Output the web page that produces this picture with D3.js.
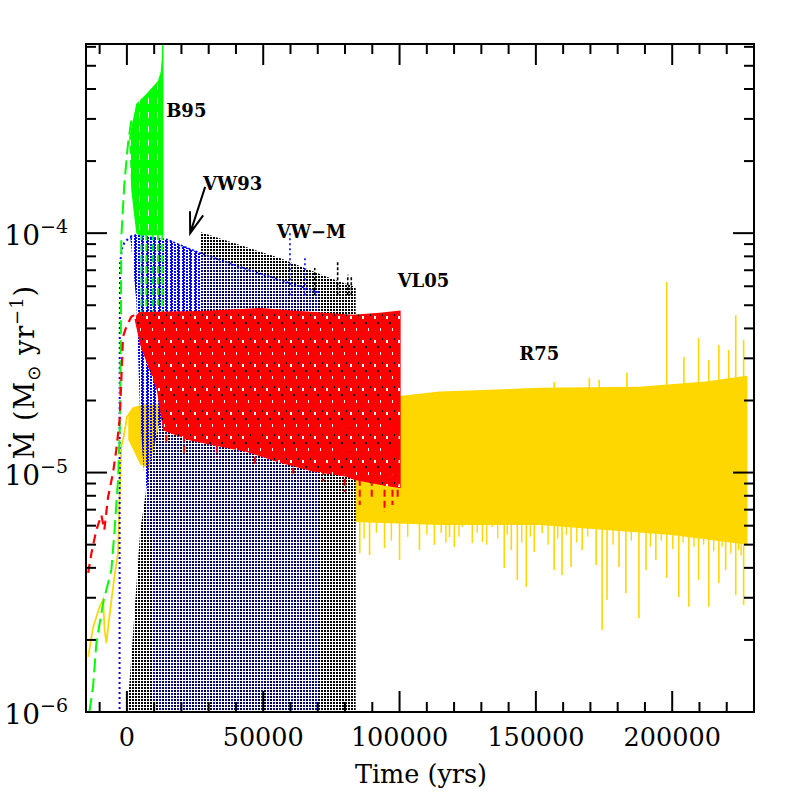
<!DOCTYPE html>
<html>
<head>
<meta charset="utf-8">
<script src="https://cdn.jsdelivr.net/npm/d3@7"></script>
<style>
body { margin: 0; background: #fff; }
svg { display: block; }
text { font-family: "DejaVu Serif", serif; fill: #000; }
</style>
</head>
<body>
<script>
// time in yrs, mass loss rate in Msun/yr

// B95 (green, long dashes)
var b95Track = [[-13750,1e-6],[-12400,1.28e-6],[-11200,1.94e-6],[-8740,2.85e-6],[-5700,3.92e-6],[-4600,5.6e-6],
  [-3250,9.3e-6],[-2670,1.41e-5],[-2230,3.58e-5],[-2050,9.6e-5],[-950,1.6e-4],[400,2.36e-4],[1600,2.95e-4]];
var b95Top = [[880,2.52e-4],[3440,3.47e-4],[7100,3.81e-4],[11380,4.32e-4],[12400,4.71e-4],[12770,5.3e-4],[13130,8e-4],[13400,8e-4]];
var b95Low = [[13400,9.8e-5],[4500,9.8e-5],[3440,1.0e-4],[1600,1.51e-4],[880,2.45e-4]];
var b95Dips = [[5300,4.6e-5],[7100,4.8e-5],[9500,4.6e-5],[11400,5.0e-5],[13000,4.7e-5]];

// VW93 (blue, dotted)
var vw93Track = [[-2700,5e-7],[-2650,3e-5],[-2500,7.5e-5],[-1800,8.6e-5],[-950,9.1e-5],[900,9.6e-5],[3400,9.8e-5]];
var vw93Top = [[1240,9.7e-5],[3440,9.8e-5],[14780,9.4e-5],[26850,8.26e-5],[45130,7.0e-5],[63420,6.0e-5],[70000,5.68e-5],[70700,5.6e-5]];
var vw93Edge = [[70700,5e-7],[10400,5e-7],[8560,4.31e-6],[4900,1.66e-5],[3440,5.26e-5],[1240,9.7e-5]];
var vw93Spikes = [[59800,1.01e-4],[65300,7.87e-5]];

// VW-M (black, dotted)
var vwmOutline = [[150,5e-7],[150,1e-6],[2340,2.2e-6],[4900,5.76e-6],[8560,1.10e-5],[12220,1.66e-5],[15140,1.79e-5],
  [19530,1.72e-5],[26100,1.69e-5],[26850,1.69e-5],[26850,1.01e-4],[56100,7.87e-5],[74400,6.49e-5],[82800,6.01e-5],
  [83900,5.9e-5],[83900,5e-7]];
var vwmSpikes = [[68900,7.16e-5],[77300,7.59e-5],[81000,6.7e-5],[82300,6.6e-5]];

// VL05 (red, dashed)
var vl05Track = [[-14200,3.81e-6],[-13000,4.61e-6],[-11200,5.76e-6],[-9360,6.65e-6],[-8270,5.76e-6],[-6900,7.91e-6],
  [-5100,9.96e-6],[-3900,1.24e-5],[-2670,1.66e-5],[-2050,2.44e-5],[-1430,3.69e-5],[-220,4.06e-5],[1600,4.47e-5],[4500,4.69e-5]];
var vl05Top = [[2700,4.43e-5],[4500,4.69e-5],[26850,4.73e-5],[48800,4.87e-5],[63400,4.73e-5],[82800,4.56e-5],[92700,4.65e-5],[100400,4.75e-5]];
var vl05Low = [[100400,8.6e-6],[92700,8.9e-6],[83500,9.3e-6],[80600,9.6e-6],[68200,1.01e-5],[56100,1.1e-5],[44000,1.22e-5],
  [31600,1.3e-5],[23200,1.36e-5],[13300,1.5e-5],[11000,2.2e-5],[4900,3.4e-5],[2700,4.43e-5]];
var vl05Spikes = [[14500,1.3e-5],[21000,1.18e-5],[33000,1.15e-5],[47000,1.08e-5],[61000,9.9e-6],[72000,9.2e-6],
  [79900,8.3e-6],[85400,7.32e-6],[89800,7.83e-6],[94500,6.84e-6],[97400,7.32e-6],[99300,7.69e-6]];

// R75 (gold, solid)
var r75Track = [[-14200,1.70e-6],[-12400,2.26e-6],[-9990,2.75e-6],[-8740,2.94e-6],[-8160,2.20e-6],[-7530,1.94e-6],[-6440,2.49e-6],
  [-4610,3.66e-6],[-3260,4.61e-6],[-2670,7.91e-6],[-2050,1.28e-5],[-1210,1.41e-5],[40,1.71e-5],[2340,1.86e-5],[7350,1.92e-5]];
var r75Top = [[500,1.75e-5],[2340,1.86e-5],[7460,1.92e-5],[26850,1.97e-5],[63400,2.03e-5],[100000,2.09e-5],[114600,2.18e-5],
  [151200,2.26e-5],[187800,2.28e-5],[212300,2.40e-5],[227300,2.54e-5],[227600,2.54e-5]];
var r75Low = [[227600,5.0e-6],[199900,5.49e-6],[175700,5.76e-6],[151200,6.04e-6],[114600,6.04e-6],[83500,6.22e-6],
  [30000,8e-6],[8560,1.03e-5],[4900,1.08e-5],[500,1.37e-5]];
var r75Down = [[85400,4.6e-6],[89000,4.53e-6],[94500,4.84e-6],[100000,4.31e-6],[107300,4.75e-6],[112800,4.99e-6],
  [115300,5.59e-6],[118300,5.38e-6],[120100,4.89e-6],[123100,5.93e-6],[126700,5.08e-6],[130400,5.13e-6],[134000,5.93e-6],
  [138400,4.0e-6],[141000,4.75e-6],[143200,3.56e-6],[146500,3.33e-6],[149400,4.66e-6],[152300,5.59e-6],[156700,3.92e-6],
  [159600,3.73e-6],[162900,4.03e-6],[167000,4.75e-6],[172100,4.11e-6],[174300,2.20e-6],[176100,2.94e-6],[180500,4.03e-6],
  [183000,3.14e-6],[187800,2.47e-6],[190400,3.92e-6],[194000,4.31e-6],[198000,3.63e-6],[202400,3.02e-6],[206100,2.75e-6],
  [209700,3.56e-6],[213400,2.75e-6],[217100,3.46e-6],[219600,3.92e-6],[223300,3.08e-6],[224400,4.75e-6],[226200,2.80e-6]];
var r75Fringe = [[87000,5.3e-6],[91500,5.6e-6],[97000,5.2e-6],[103000,5.4e-6],[110000,5.5e-6],[117000,5.1e-6],
  [121800,5.4e-6],[128500,5.6e-6],[132000,5.0e-6],[136000,5.3e-6],[139500,5.5e-6],[144800,5.1e-6],[148000,5.4e-6],
  [154500,5.0e-6],[158000,5.3e-6],[161200,5.5e-6],[165000,5.1e-6],[169000,5.4e-6],[178300,5.0e-6],[185000,5.2e-6],
  [192000,4.9e-6],[196000,5.2e-6],[200200,4.8e-6],[204000,5.1e-6],[208000,4.9e-6],[211500,5.0e-6],[215200,4.7e-6],
  [218300,4.9e-6],[221500,4.6e-6],[225300,4.5e-6]];
var r75Up = [[156700,2.39e-5],[169600,2.48e-5],[173200,2.44e-5],[183400,2.61e-5],[198000,6.25e-5],[204300,3.04e-5],
  [209700,3.65e-5],[213400,2.95e-5],[217100,3.41e-5],[220700,3.25e-5],[223300,4.54e-5],[226200,3.58e-5]];

var xMajor = [0, 50000, 100000, 150000, 200000];
var yMajor = [1e-6, 1e-5, 1e-4];
var yLabels = ["\u22126", "\u22125", "\u22124"];

var labels = [
  {text: "B95", t: 14400, v: 3.06e-4},
  {text: "VW93", t: 27900, v: 1.51e-4},
  {text: "VW\u2212M", t: 55000, v: 9.55e-5},
  {text: "VL05", t: 99300, v: 5.96e-5},
  {text: "R75", t: 143900, v: 2.95e-5}
];
var arrowFrom = [28700, 1.56e-4], arrowTo = [23200, 1.0e-4];

var W = 797, H = 797;
var plotL = 86, plotR = 754, plotT = 44, plotB = 712;

var svg = d3.select("body").append("svg").attr("width", W).attr("height", H);

var x = d3.scaleLinear().domain([-15000, 230000]).range([plotL, plotR]);
var y = d3.scaleLog().domain([1e-6, Math.pow(10, -3.21)]).range([plotB, plotT]);

var defs = svg.append("defs");
defs.append("clipPath").attr("id", "plot").append("rect")
  .attr("x", plotL).attr("y", plotT).attr("width", plotR - plotL).attr("height", plotB - plotT);

var pBk = defs.append("pattern").attr("id", "pBlack").attr("patternUnits", "userSpaceOnUse")
  .attr("width", 3).attr("height", 3);
pBk.append("rect").attr("width", 3).attr("height", 3).attr("fill", "#fff");
pBk.append("rect").attr("width", 2).attr("height", 2).attr("fill", "#000");

// dense blue where it is alone, sparse columns where it sits on the black
var pBl = defs.append("pattern").attr("id", "pBlue").attr("patternUnits", "userSpaceOnUse")
  .attr("width", 4).attr("height", 3);
pBl.append("rect").attr("x", 2).attr("y", 1).attr("width", 2).attr("height", 2).attr("fill", "#0000ff");

var pBs = defs.append("pattern").attr("id", "pBlueSparse").attr("patternUnits", "userSpaceOnUse")
  .attr("width", 6).attr("height", 3);
pBs.append("rect").attr("x", 3).attr("y", 0).attr("width", 2).attr("height", 2).attr("fill", "#0000ff");

var pRd = defs.append("pattern").attr("id", "pRed").attr("patternUnits", "userSpaceOnUse")
  .attr("width", 12).attr("height", 24);
pRd.append("rect").attr("width", 12).attr("height", 24).attr("fill", "#ff0000");
pRd.append("rect").attr("x", 2).attr("y", 4).attr("width", 2).attr("height", 3).attr("fill", "#fff");
pRd.append("rect").attr("x", 8).attr("y", 16).attr("width", 1).attr("height", 3).attr("fill", "#fff");
pRd.append("rect").attr("x", 5).attr("y", 10).attr("width", 2).attr("height", 2).attr("fill", "#000");
pRd.append("rect").attr("x", 10).attr("y", 2).attr("width", 1).attr("height", 2).attr("fill", "#000");
pRd.append("rect").attr("x", 1).attr("y", 19).attr("width", 1).attr("height", 1).attr("fill", "#0000ff");

var pGr = defs.append("pattern").attr("id", "pGreen").attr("patternUnits", "userSpaceOnUse")
  .attr("width", 9).attr("height", 14);
pGr.append("rect").attr("width", 9).attr("height", 14).attr("fill", "#00ff00");
pGr.append("rect").attr("x", 4).attr("y", 0).attr("width", 1).attr("height", 6).attr("fill", "#fff");

var line = d3.line().x(function(d) { return x(d[0]); }).y(function(d) { return y(d[1]); });

var g = svg.append("g").attr("clip-path", "url(#plot)");

function band(pts, fill) {
  g.append("path").attr("d", line(pts) + "Z").attr("fill", fill).attr("stroke", "none");
}
function track(pts, color, dash, w) {
  g.append("path").attr("d", line(pts)).attr("fill", "none").attr("stroke", color)
    .attr("stroke-width", w).attr("stroke-dasharray", dash);
}
function spikes(pts, from, color, dash, w) {
  g.selectAll(null).data(pts).enter().append("line")
    .attr("x1", function(d) { return x(d[0]); }).attr("x2", function(d) { return x(d[0]); })
    .attr("y1", y(from)).attr("y2", function(d) { return y(d[1]); })
    .attr("stroke", color).attr("stroke-width", w).attr("stroke-dasharray", dash);
}

// R75
band(r75Top.concat(r75Low), "#ffd700");
spikes(r75Down, 1.2e-5, "#ffd700", null, 1.6);
spikes(r75Fringe, 1.2e-5, "#ffd700", null, 1.4);
spikes(r75Up, 2.0e-5, "#ffd700", null, 1.6);
track(r75Track, "#ffd700", null, 1.8);

// VW93 underneath, then VW-M, then VW93 again on top
band(vw93Top.concat(vw93Edge), "url(#pBlue)");
band(vwmOutline, "url(#pBlack)");
spikes(vwmSpikes, 5.5e-5, "#000", "3,2", 1.6);
band(vw93Top.concat(vw93Edge), "url(#pBlueSparse)");
g.append("path").attr("d", line(vw93Top)).attr("fill", "none").attr("stroke", "#0000ff")
  .attr("stroke-width", 1.6).attr("stroke-dasharray", "2,2");
spikes(vw93Spikes, 5.5e-5, "#0000ff", "2,3", 1.6);
track(vw93Track, "#0000ff", "2,3", 2);

// B95
band(b95Top.concat(b95Low), "url(#pGreen)");
spikes(b95Dips, 1.0e-4, "#00ff00", "7,4", 1.8);
track(b95Track, "#00ff00", "14,6", 2);

// VL05
band(vl05Top.concat(vl05Low), "url(#pRed)");
spikes(vl05Spikes, 1.6e-5, "#ff0000", "7,4", 2);
track(vl05Track, "#ff0000", "9,6", 2.2);

// frame and ticks
var ax = svg.append("g").attr("stroke", "#000").attr("stroke-width", 2);
ax.append("rect").attr("x", plotL).attr("y", plotT).attr("width", plotR - plotL).attr("height", plotB - plotT)
  .attr("fill", "none");

var xMinor = d3.range(-10000, 230001, 10000).filter(function(t) { return t % 50000 !== 0; });
var yMinor = [];
[1e-6, 1e-5, 1e-4].forEach(function(p) {
  for (var k = 2; k <= 9; k++) { if (k * p <= Math.pow(10, -3.21)) yMinor.push(k * p); }
});

function xTicks(vals, len) {
  vals.forEach(function(t) {
    ax.append("line").attr("x1", x(t)).attr("x2", x(t)).attr("y1", plotB).attr("y2", plotB - len);
    ax.append("line").attr("x1", x(t)).attr("x2", x(t)).attr("y1", plotT).attr("y2", plotT + len);
  });
}
function yTicks(vals, len) {
  vals.forEach(function(v) {
    ax.append("line").attr("x1", plotL).attr("x2", plotL + len).attr("y1", y(v)).attr("y2", y(v));
    ax.append("line").attr("x1", plotR).attr("x2", plotR - len).attr("y1", y(v)).attr("y2", y(v));
  });
}
xTicks(xMajor, 21);
xTicks(xMinor, 10);
yTicks(yMajor, 21);
yTicks(yMinor, 10);

svg.selectAll(".xl").data(xMajor).enter().append("text")
  .attr("x", function(d) { return x(d); }).attr("y", 746)
  .attr("text-anchor", "middle").attr("font-size", 25.5)
  .text(function(d) { return d; });

yMajor.forEach(function(v, i) {
  var t = svg.append("text").attr("x", 68).attr("y", y(v) + 12).attr("text-anchor", "end").attr("font-size", 28);
  t.append("tspan").text("10");
  t.append("tspan").attr("font-size", 19).attr("dy", -12).text(yLabels[i]);
});

svg.append("text").attr("x", 421).attr("y", 783).attr("text-anchor", "middle")
  .attr("font-size", 25.5).text("Time (yrs)");

var yt = svg.append("text").attr("transform", "translate(34,372) rotate(-90)")
  .attr("text-anchor", "middle").attr("font-size", 27).attr("letter-spacing", 1);
yt.append("tspan").text("\u1E40 (M");
yt.append("tspan").attr("font-size", 18).attr("dy", 6).attr("font-family", "DejaVu Sans").text("\u2299");
yt.append("tspan").attr("dy", -6).text(" yr");
yt.append("tspan").attr("font-size", 18).attr("dy", -11).text("\u22121");
yt.append("tspan").attr("dy", 11).text(")");

// annotations
labels.forEach(function(d) {
  svg.append("text").attr("x", x(d.t)).attr("y", y(d.v))
    .attr("font-size", 18).attr("font-weight", "bold").text(d.text);
});

var ax0 = x(arrowFrom[0]), ay0 = y(arrowFrom[1]), ax1 = x(arrowTo[0]), ay1 = y(arrowTo[1]);
var ang = Math.atan2(ay0 - ay1, ax0 - ax1);
var bl = 22, sp = 0.32;
svg.append("path")
  .attr("d", "M" + ax0 + "," + ay0 + "L" + ax1 + "," + ay1 +
    "M" + (ax1 + bl * Math.cos(ang - sp)) + "," + (ay1 + bl * Math.sin(ang - sp)) +
    "L" + ax1 + "," + ay1 +
    "L" + (ax1 + bl * Math.cos(ang + sp)) + "," + (ay1 + bl * Math.sin(ang + sp)))
  .attr("fill", "none").attr("stroke", "#000").attr("stroke-width", 2);
</script>
</body>
</html>
